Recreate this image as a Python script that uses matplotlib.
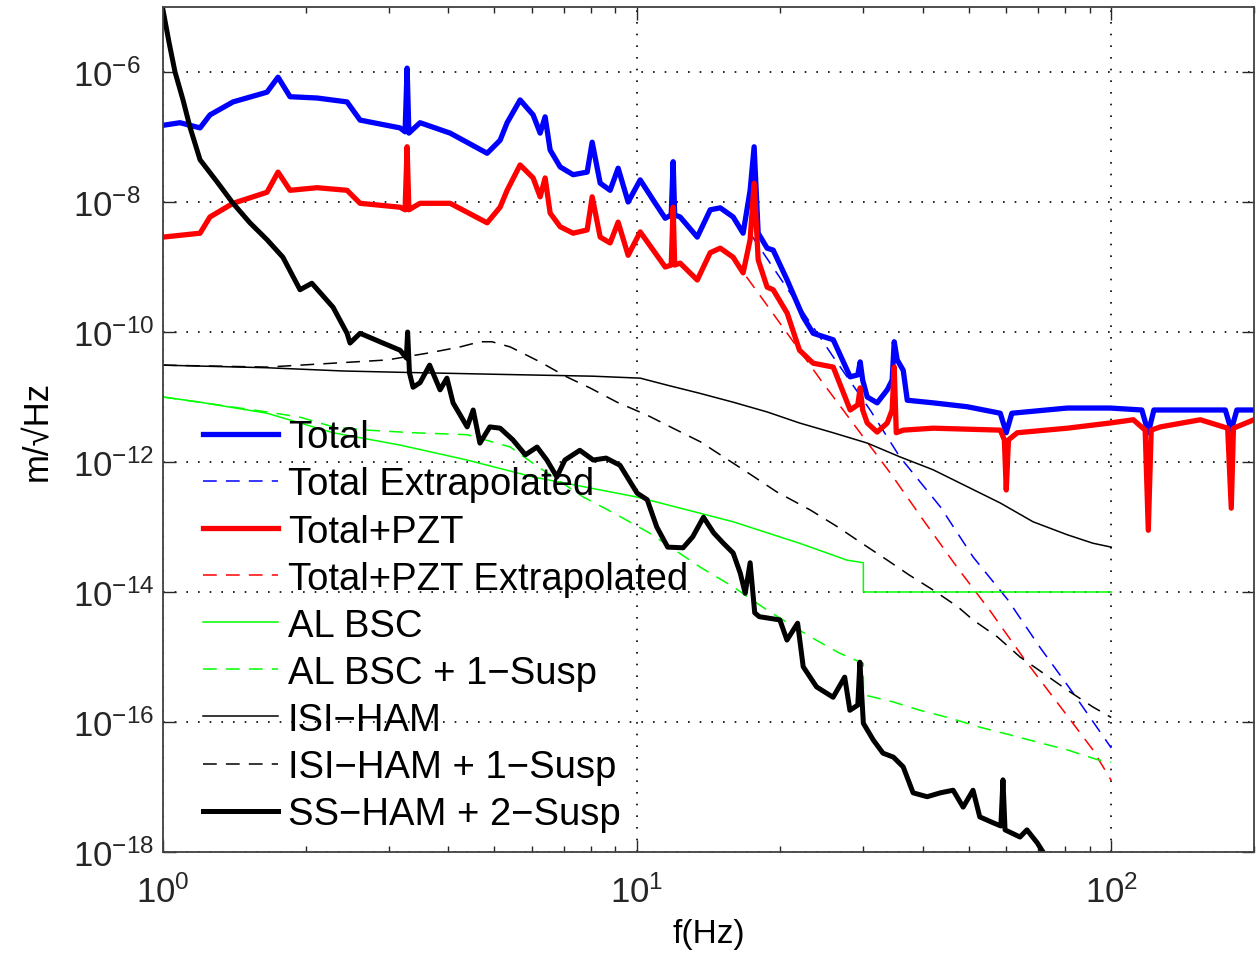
import numpy as np
import matplotlib.pyplot as plt
from matplotlib.ticker import NullLocator

plt.rcParams['font.family'] = ['Liberation Sans', 'DejaVu Sans']

# frequencies in Hz, amplitudes stored as log10(m/sqrt(Hz))
f_total = [1.0, 1.086, 1.197, 1.256, 1.405, 1.657, 1.748, 1.853, 2.113, 2.444,
           2.604, 3.162, 3.24, 3.272, 3.30, 3.484, 4.032, 4.826, 5.14, 5.318,
           5.664, 6.034, 6.243, 6.396, 6.554, 6.88, 7.328, 7.845, 8.038, 8.357,
           8.77, 9.118, 9.572, 10.15, 10.81, 11.46, 11.8, 11.91, 12.0, 12.32,
           13.39, 14.26, 14.97, 15.94, 16.73, 17.31, 17.65, 18.0, 18.8, 19.36,
           20.72, 22.4, 23.51, 25.92, 28.14, 29.2, 29.54, 29.9, 30.57, 32.08,
           33.69, 34.5, 34.85, 35.36, 36.41, 37.13, 42.12, 49.69, 58.33, 60.05,
           61.7, 80.76, 99.5, 116.0, 119.7, 123.0, 154.0, 174.0, 179.1, 184.0, 200.0]
log_total = [-6.82, -6.78, -6.86, -6.66, -6.46, -6.31, -6.08, -6.38, -6.40, -6.46,
             -6.74, -6.86, -6.92, -5.94, -6.94, -6.78, -6.94, -7.25, -7.05, -6.78,
             -6.43, -6.66, -6.94, -6.69, -7.20, -7.46, -7.58, -7.54, -7.08, -7.71,
             -7.82, -7.48, -8.00, -7.66, -7.97, -8.25, -8.20, -7.38, -8.20, -8.23,
             -8.54, -8.12, -8.09, -8.23, -8.48, -7.82, -7.15, -8.48, -8.71, -8.74,
             -9.20, -9.77, -10.02, -10.12, -10.69, -10.66, -10.46, -10.74, -11.00, -11.09,
             -10.89, -10.74, -10.15, -10.43, -10.59, -11.05, -11.09, -11.15, -11.25, -11.55,
             -11.25, -11.17, -11.17, -11.20, -11.55, -11.20, -11.20, -11.20, -11.51, -11.20, -11.20]

f_pzt = [1.0, 1.197, 1.256, 1.405, 1.657, 1.748, 1.853, 2.113, 2.444, 2.604,
         3.162, 3.24, 3.272, 3.30, 3.484, 4.032, 4.826, 5.14, 5.318, 5.664,
         6.034, 6.243, 6.396, 6.554, 6.88, 7.328, 7.845, 8.038, 8.357, 8.77,
         9.118, 9.572, 10.15, 10.81, 11.46, 11.8, 11.91, 12.0, 12.32, 13.39,
         14.26, 14.97, 15.94, 16.73, 17.31, 17.65, 18.0, 18.8, 19.36, 20.72,
         22.0, 23.51, 25.92, 28.14, 29.2, 29.54, 29.9, 30.57, 32.08, 33.69,
         34.5, 34.85, 35.2, 36.41, 42.12, 58.33, 59.5, 60.05, 60.7, 63.36,
         80.76, 99.5, 111.3, 117.9, 119.7, 121.4, 126.9, 154.1, 176.0, 179.1, 181.0, 200.0]
log_pzt = [-8.54, -8.48, -8.23, -8.02, -7.85, -7.54, -7.82, -7.78, -7.82, -8.02,
           -8.08, -8.12, -7.15, -8.12, -8.02, -8.02, -8.32, -8.08, -7.82, -7.43,
           -7.63, -7.92, -7.63, -8.17, -8.38, -8.48, -8.43, -7.92, -8.54, -8.63,
           -8.31, -8.82, -8.46, -8.74, -9.00, -8.97, -8.08, -8.97, -8.94, -9.20,
           -8.78, -8.71, -8.85, -9.09, -8.58, -7.71, -8.89, -9.31, -9.35, -9.71,
           -10.28, -10.48, -10.54, -11.20, -11.12, -10.86, -11.20, -11.40, -11.54, -11.40,
           -11.20, -10.54, -11.55, -11.51, -11.48, -11.51, -11.66, -12.43, -11.66, -11.55,
           -11.48, -11.40, -11.35, -11.51, -13.05, -11.51, -11.46, -11.35, -11.48, -12.71, -11.48, -11.35]

f_total_ext = [17.3, 25.9, 31.0, 35.8, 43.6, 51.1, 60.5, 70.7, 83.0, 100.0]
log_total_ext = [-8.48, -10.38, -11.20, -11.92, -12.69, -13.46, -14.12, -14.85, -15.55, -16.40]

f_pzt_ext = [17.0, 19.1, 24.4, 28.5, 34.2, 40.1, 47.3, 55.4, 65.8, 78.2, 91.5, 100.0]
log_pzt_ext = [-9.15, -9.66, -10.74, -11.40, -12.17, -12.89, -13.62, -14.28, -15.05, -15.77, -16.43, -16.90]

f_bsc = [1.0, 1.197, 1.657, 2.284, 3.162, 4.38, 6.03, 8.36, 10.0, 11.6,
         15.94, 22.0, 27.7, 30.0, 30.0, 100.0]
log_bsc = [-11.00, -11.08, -11.25, -11.55, -11.74, -11.97, -12.23, -12.43, -12.54, -12.66,
           -12.92, -13.25, -13.51, -13.55, -14.00, -14.00]

f_bsc_susp = [1.0, 1.657, 1.945, 2.284, 2.7, 3.37, 4.38, 5.4, 6.03, 7.7,
              8.9, 10.6, 13.6, 15.94, 18.8, 23.2, 26.7, 30.0, 30.0, 34.6,
              39.5, 45.7, 52.8, 61.3, 70.7, 80.8, 93.5, 100.0]
log_bsc_susp = [-11.00, -11.23, -11.31, -11.46, -11.51, -11.55, -11.58, -11.77, -12.02, -12.54,
                -12.78, -13.09, -13.62, -13.92, -14.28, -14.69, -14.94, -15.10, -15.58, -15.69,
                -15.82, -15.94, -16.08, -16.20, -16.32, -16.43, -16.58, -16.62]

f_isi = [1.0, 1.657, 2.4, 3.162, 4.97, 8.07, 10.15, 11.6, 13.5, 15.94,
         18.8, 22.0, 25.9, 30.6, 35.8, 42.1, 49.7, 58.3, 68.4, 80.8, 91.5, 100.0]
log_isi = [-10.51, -10.55, -10.60, -10.62, -10.65, -10.68, -10.71, -10.82, -10.94, -11.08,
           -11.23, -11.40, -11.55, -11.71, -11.92, -12.12, -12.38, -12.63, -12.92, -13.12, -13.25, -13.31]

f_isi_susp = [1.0, 1.657, 2.284, 2.97, 3.65, 4.23, 4.66, 4.94, 5.4, 6.24,
              7.1, 7.95, 9.07, 10.5, 11.9, 13.6, 15.2, 17.0, 19.7, 23.2,
              26.5, 29.5, 33.7, 37.5, 42.1, 47.5, 51.1, 57.5, 64.2, 71.9, 80.8, 91.5, 100.0]
log_isi_susp = [-10.51, -10.54, -10.48, -10.43, -10.32, -10.23, -10.15, -10.15, -10.23, -10.46,
                -10.69, -10.86, -11.08, -11.28, -11.48, -11.69, -11.92, -12.15, -12.46, -12.74,
                -13.00, -13.23, -13.51, -13.74, -13.97, -14.23, -14.43, -14.69, -15.00, -15.25,
                -15.51, -15.77, -15.93]

f_ss = [1.0, 1.03, 1.06, 1.102, 1.14, 1.197, 1.30, 1.405, 1.525, 1.657, 1.79,
        1.945, 2.06, 2.284, 2.444, 2.48, 2.604, 2.91, 3.162, 3.26, 3.28,
        3.31, 3.368, 3.484, 3.65, 3.84, 3.97, 4.09, 4.38, 4.51, 4.66,
        4.89, 5.14, 5.47, 5.81, 6.15, 6.45, 6.77, 7.04, 7.57, 8.08,
        8.6, 9.2, 10.0, 10.5, 11.0, 11.6, 12.5, 13.1, 13.8, 14.5,
        15.2, 15.94, 16.5, 16.9, 17.31, 17.7, 18.1, 20.0, 20.7, 21.8,
        22.4, 23.9, 25.9, 27.4, 28.1, 29.2, 29.5, 30.0, 31.5, 33.0,
        34.7, 36.4, 38.2, 40.9, 43.6, 46.4, 48.7, 51.1, 52.8, 56.3,
        58.5, 59.1, 59.7, 64.2, 66.4, 69.8, 72.5]
log_ss = [-5.05, -5.55, -6.00, -6.43, -6.85, -7.35, -7.69, -8.02, -8.32, -8.58, -8.85,
          -9.35, -9.25, -9.62, -10.02, -10.17, -10.02, -10.17, -10.28, -10.40, -10.00,
          -10.63, -10.85, -10.78, -10.51, -10.89, -10.71, -11.09, -11.46, -11.20, -11.71,
          -11.46, -11.48, -11.66, -11.89, -11.77, -11.97, -12.23, -11.97, -11.82, -11.97,
          -11.94, -12.05, -12.48, -12.58, -13.00, -13.31, -13.32, -13.15, -12.85, -13.09,
          -13.25, -13.40, -13.71, -14.02, -13.55, -14.32, -14.38, -14.43, -14.74, -14.48,
          -15.15, -15.46, -15.62, -15.31, -15.82, -15.74, -15.08, -16.02, -16.28, -16.48,
          -16.54, -16.69, -17.09, -17.15, -17.09, -17.05, -17.31, -17.05, -17.46, -17.55,
          -17.60, -16.89, -17.66, -17.77, -17.66, -17.86, -18.05]

ytick_exp = [-18, -16, -14, -12, -10, -8, -6]

fig = plt.figure(figsize=(12.56, 9.54), dpi=100)
ax = fig.add_axes([0.1298, 0.1059, 0.8686, 0.8857])

dash = (9, 6)
ax.loglog(f_total, 10.0 ** np.array(log_total), color='b', lw=3.8, label='Total')
ax.loglog(f_total_ext, 10.0 ** np.array(log_total_ext), color='b', lw=1.1,
          dashes=dash, label='Total Extrapolated')
ax.loglog(f_pzt, 10.0 ** np.array(log_pzt), color='r', lw=3.8, label='Total+PZT')
ax.loglog(f_pzt_ext, 10.0 ** np.array(log_pzt_ext), color='r', lw=1.1,
          dashes=dash, label='Total+PZT Extrapolated')
ax.loglog(f_bsc, 10.0 ** np.array(log_bsc), color='#00ff00', lw=1.1, label='AL BSC')
ax.loglog(f_bsc_susp, 10.0 ** np.array(log_bsc_susp), color='#00ff00', lw=1.1,
          dashes=dash, label='AL BSC + 1\u2212Susp')
ax.loglog(f_isi, 10.0 ** np.array(log_isi), color='k', lw=1.1, label='ISI\u2212HAM')
ax.loglog(f_isi_susp, 10.0 ** np.array(log_isi_susp), color='k', lw=1.1,
          dashes=dash, label='ISI\u2212HAM + 1\u2212Susp')
ax.loglog(f_ss, 10.0 ** np.array(log_ss), color='k', lw=3.6, label='SS\u2212HAM + 2\u2212Susp')

ax.set_xlim(1, 200)
ax.set_ylim(1e-18, 1e-5)
ax.set_yticks(10.0 ** np.array(ytick_exp))
ax.set_yticklabels([r'$\mathdefault{10^{%d}}$' % e for e in ytick_exp])
ax.yaxis.set_minor_locator(NullLocator())

ax.grid(True, which='major', color='k', lw=1.2, linestyle=(0, (1, 6)))
ax.tick_params(which='both', direction='in', top=True, right=True, width=1.0, colors='#262626')
ax.tick_params(which='major', length=9)
ax.tick_params(which='minor', length=4)
ax.tick_params(axis='x', labelsize=25, pad=16)
ax.tick_params(axis='y', labelsize=25, pad=65)
for lbl in ax.get_yticklabels():
    lbl.set_horizontalalignment('left')
for sp in ax.spines.values():
    sp.set_color('#404040')
    sp.set_linewidth(1.3)

ax.set_xlabel('f(Hz)', fontsize=24, labelpad=7)
ax.set_ylabel('m/\u221aHz', fontsize=25, labelpad=14)

ax.legend(loc='upper left', bbox_to_anchor=(0.0367, 0.512), frameon=False,
          fontsize=27.5, handlelength=1.95, handletextpad=0.27,
          labelspacing=0.29, borderpad=0, borderaxespad=0)

fig.savefig('out.png', dpi=100)
